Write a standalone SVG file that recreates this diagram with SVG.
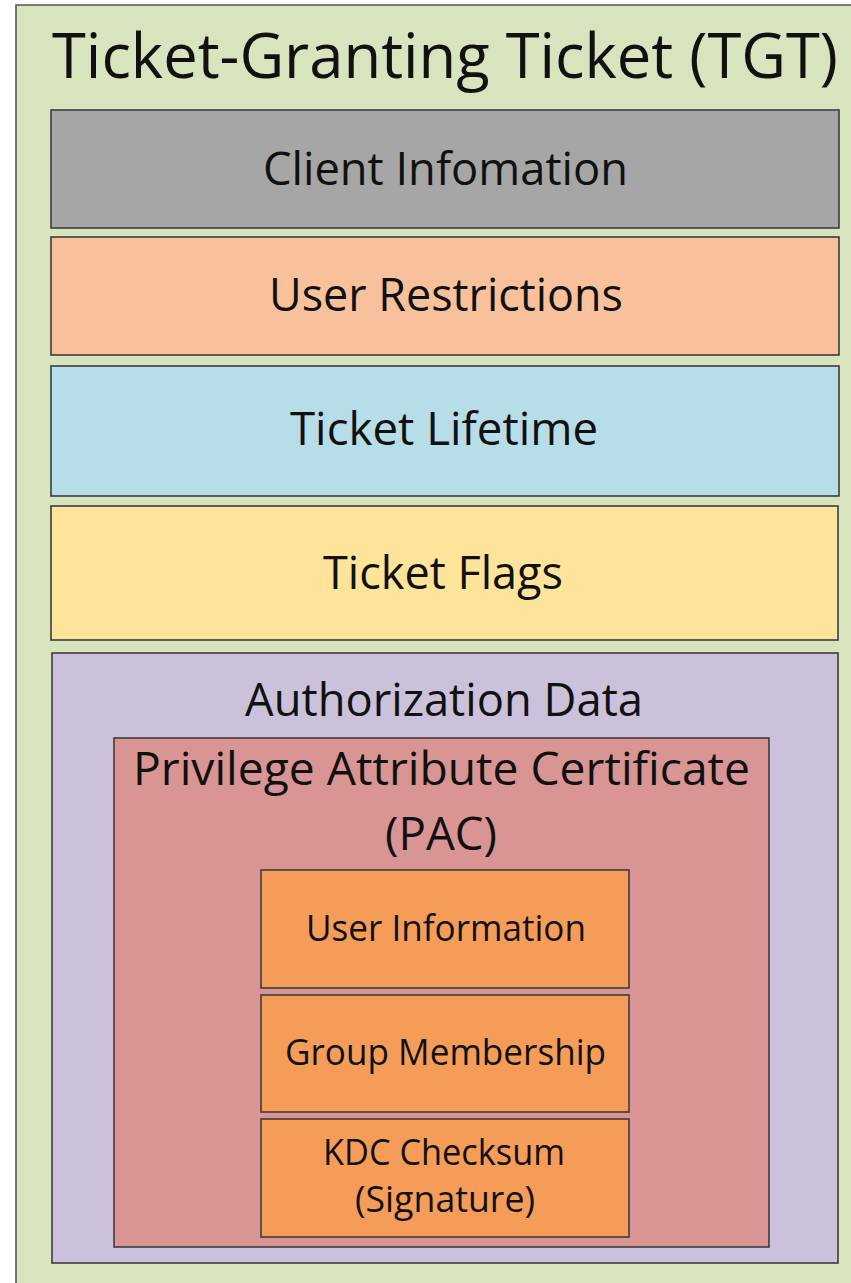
<svg xmlns="http://www.w3.org/2000/svg" width="851" height="1283" viewBox="0 0 851 1283">
<style>
.box{stroke:#3c3c3c;stroke-width:1.6}
text{font-family:"Open Sans","Noto Sans","Liberation Sans",sans-serif;fill:#111;text-anchor:middle}
.t1{font-size:62px}
.t2{font-size:46px}
.t3{font-size:36px}
</style>
<rect x="0" y="0" width="851" height="1283" fill="#ffffff"/>
<g id="tgt">
<rect x="16" y="5" width="835" height="1278" fill="#D7E4BD"/>
<path d="M16 1283 V5 H851" fill="none" stroke="#555" stroke-width="1.6"/>
<text class="t1" x="445" y="78" textLength="786" lengthAdjust="spacingAndGlyphs">Ticket-Granting Ticket (TGT)</text>
</g>
<g id="client-info">
<rect class="box" x="51" y="110" width="788" height="118" fill="#A6A6A6"/>
<text class="t2" x="445.5" y="185" textLength="365" lengthAdjust="spacingAndGlyphs">Client Infomation</text>
</g>
<g id="user-restrictions">
<rect class="box" x="51" y="237" width="788" height="118" fill="#F9C19B"/>
<text class="t2" x="446" y="311" textLength="354" lengthAdjust="spacingAndGlyphs">User Restrictions</text>
</g>
<g id="ticket-lifetime">
<rect class="box" x="51" y="366" width="788" height="130" fill="#B7DDE8"/>
<text class="t2" x="444" y="445" textLength="308" lengthAdjust="spacingAndGlyphs">Ticket Lifetime</text>
</g>
<g id="ticket-flags">
<rect class="box" x="51" y="506" width="787" height="134" fill="#FDE49A"/>
<text class="t2" x="443" y="589" textLength="240" lengthAdjust="spacingAndGlyphs">Ticket Flags</text>
</g>
<g id="authorization-data">
<rect class="box" x="52" y="653" width="786" height="610" fill="#CCC1DA"/>
<text class="t2" x="444" y="716" textLength="398" lengthAdjust="spacingAndGlyphs">Authorization Data</text>
</g>
<g id="pac">
<rect class="box" x="114" y="738" width="655" height="509" fill="#D99594"/>
<text class="t2" x="441.5" y="785" textLength="617" lengthAdjust="spacingAndGlyphs">Privilege Attribute Certificate</text>
<text class="t2" x="441" y="850" textLength="112" lengthAdjust="spacingAndGlyphs">(PAC)</text>
</g>
<g id="user-information">
<rect class="box" x="261" y="870" width="368" height="118" fill="#F59D58"/>
<text class="t3" x="446" y="941" textLength="280" lengthAdjust="spacingAndGlyphs">User Information</text>
</g>
<g id="group-membership">
<rect class="box" x="261" y="995" width="368" height="117" fill="#F59D58"/>
<text class="t3" x="445.5" y="1065" textLength="321" lengthAdjust="spacingAndGlyphs">Group Membership</text>
</g>
<g id="kdc-checksum">
<rect class="box" x="261" y="1119" width="368" height="118" fill="#F59D58"/>
<text class="t3" x="444" y="1165" textLength="242" lengthAdjust="spacingAndGlyphs">KDC Checksum</text>
<text class="t3" x="445" y="1212" textLength="180" lengthAdjust="spacingAndGlyphs">(Signature)</text>
</g>
<g id="connectors"></g>
</svg>
